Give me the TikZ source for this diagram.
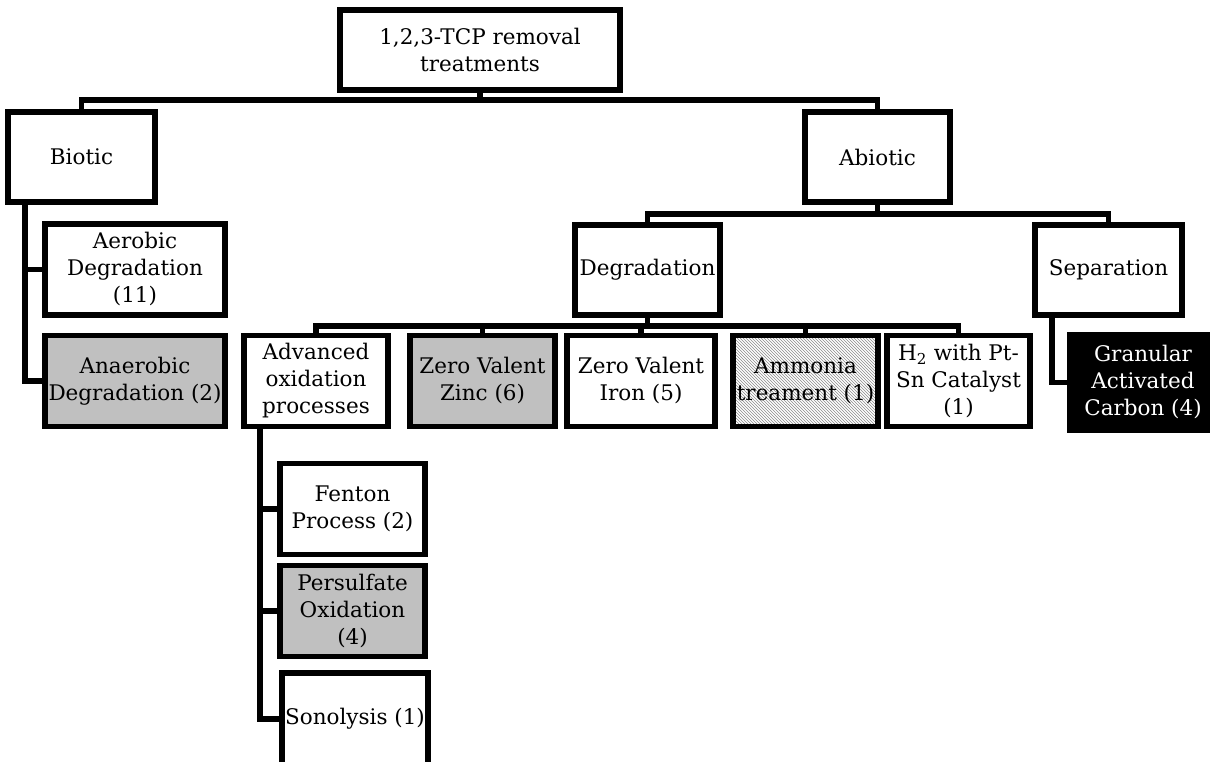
\documentclass[tikz,border=0pt]{standalone}
\usepackage{fontspec}
\setmainfont{DejaVu Serif}
\usetikzlibrary{patterns}
\definecolor{boxgray}{RGB}{192,192,192}
\begin{document}
\begin{tikzpicture}[x=1pt,y=-1pt,
  box/.style={draw=black, line width=5.5pt, fill=white, align=center, inner sep=0pt,
    font=\fontsize{21.5}{27}\selectfont, minimum height=91pt},
  grayfill/.style={fill=boxgray},
  hatch/.style={pattern=north west lines, pattern color=black!45},
  conn/.style={line width=5.5pt, line join=miter}]
\useasboundingbox[fill=white] (0,0) rectangle (1210,762);

% nodes
\node[box, minimum width=280pt, minimum height=80pt] (top) at (480,50) {1,2,3-TCP removal\\treatments};
\node[box, minimum width=147pt, minimum height=90pt] (biotic) at (81.5,157) {Biotic};
\node[box, minimum width=145pt, minimum height=90pt] (abiotic) at (877.5,157) {Abiotic};
\node[box, minimum width=180pt] (aerobic) at (135,269.5) {Aerobic\\Degradation\\(11)};
\node[box, minimum width=180pt, grayfill] (anaerobic) at (135,381) {Anaerobic\\Degradation (2)};
\node[box, minimum width=145pt, minimum height=90pt] (degradation) at (647.5,270) {Degradation};
\node[box, minimum width=147pt, minimum height=90pt] (separation) at (1108.5,270) {Separation};
\node[box, minimum width=144pt] (adv) at (316,381) {Advanced\\oxidation\\processes};
\node[box, minimum width=145pt, grayfill] (zinc) at (482.5,381) {Zero Valent\\Zinc (6)};
\node[box, minimum width=148pt] (iron) at (641,381) {Zero Valent\\Iron (5)};
\node[box, minimum width=145pt, hatch] (ammonia) at (805.5,381) {Ammonia\\treament (1)};
\node[box, minimum width=143pt] (h2) at (958.5,381) {H\textsubscript{2} with Pt-\\Sn Catalyst\\(1)};
\node[box, minimum width=147pt, minimum height=95pt, fill=black, text=white] (gac) at (1143,382.5) {Granular\\Activated\\Carbon (4)};
\node[box, minimum width=145pt] (fenton) at (352.5,509) {Fenton\\Process (2)};
\node[box, minimum width=145pt, grayfill] (persulfate) at (352.5,611) {Persulfate\\Oxidation\\(4)};
\node[box, minimum width=146pt, minimum height=92pt] (sonolysis) at (355,719) {Sonolysis (1)};

% helper coordinates
\coordinate (bus1) at (480,100);
\coordinate (bus2) at (880,214);
\coordinate (bus3) at (647,326);
\coordinate (bx) at (25,0);
\coordinate (sx) at (1052,0);
\coordinate (ax) at (260,0);

% connectors
\draw[conn] (top.south) -- (bus1);
\draw[conn] (biotic.north) |- (bus1) -| (abiotic.north);
\draw[conn] (abiotic.south) -- (abiotic.south |- bus2);
\draw[conn] (degradation.north) |- (bus2) -| (separation.north);
\draw[conn] (biotic.south -| bx) |- (anaerobic.west);
\draw[conn] (bx |- aerobic.west) -- (aerobic.west);
\draw[conn] (degradation.south) -- (degradation.south |- bus3);
\draw[conn] (adv.north) |- (bus3) -| (h2.north);
\draw[conn] (zinc.north) -- (zinc.north |- bus3);
\draw[conn] (iron.north) -- (iron.north |- bus3);
\draw[conn] (ammonia.north) -- (ammonia.north |- bus3);
\draw[conn] (separation.south -| sx) |- (gac.west);
\draw[conn] (adv.south -| ax) |- (sonolysis.west);
\draw[conn] (ax |- fenton.west) -- (fenton.west);
\draw[conn] (ax |- persulfate.west) -- (persulfate.west);
\end{tikzpicture}
\end{document}
